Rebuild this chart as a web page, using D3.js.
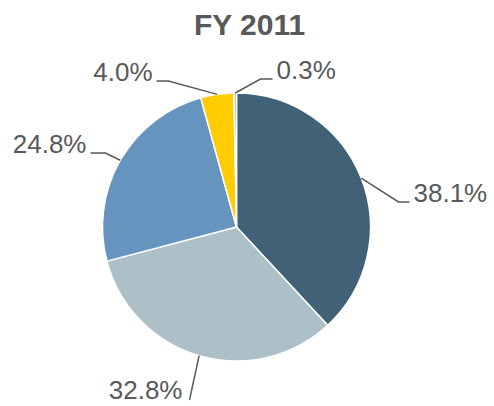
<!DOCTYPE html>
<html>
<head>
<meta charset="utf-8">
<script src="https://cdn.jsdelivr.net/npm/d3@7/dist/d3.min.js"></script>
<style>
  body { margin: 0; background: #fff; }
  text { font-family: Arial, "Liberation Sans", sans-serif; fill: #595959; }
</style>
</head>
<body>
<div id="chart"></div>
<script>
const title = "FY 2011"
const categories = ["A", "B", "C", "D", "E"]
const values = [38.1, 32.8, 24.8, 4.0, 0.3]
const labels = ["38.1%", "32.8%", "24.8%", "4.0%", "0.3%"]
const colors = ["#416177", "#adc0c7", "#6595bf", "#ffcc00", "#86bfa8"]

// label elbow points relative to pie centre, and horizontal leg length
const labelAnchors = [[162, -25], [-47, 173], [-131, -74], [-68, -146], [24, -148]]
const legs = [11, 0, 15, 12, 12]

const width = 494
const height = 406
const cx = 236.5, cy = 227, radius = 134

const svg = d3.select('#chart')
  .append("svg")
  .attr("width", width)
  .attr("height", height)

svg.append("text")
  .attr("x", 249.5)
  .attr("y", 35)
  .style("text-anchor", "middle")
  .style("font-size", "30px")
  .style("font-weight", "bold")
  .text(title)

const data = categories.map(function(c, i) { return {cat: c, value: values[i], label: labels[i]} })

const pie = d3.pie()
  .sort(null)
  .value(function(d) { return d.value })

const arc = d3.arc().innerRadius(0).outerRadius(radius)
const edgeArc = d3.arc().innerRadius(radius).outerRadius(radius)

const g = svg.append("g")
  .attr("transform", "translate(" + cx + "," + cy + ")")

const arcs = pie(data)

g.selectAll("path.slice")
  .data(arcs)
  .enter()
  .append("path")
  .attr("class", "slice")
  .attr("d", arc)
  .attr("fill", function(d, i) { return colors[i] })
  .attr("stroke", "#fff")
  .attr("stroke-width", 1.5)

g.selectAll("polyline")
  .data(arcs)
  .enter()
  .append("polyline")
  .attr("fill", "none")
  .attr("stroke", "#595959")
  .attr("stroke-width", 1.5)
  .attr("points", function(d, i) {
    const p0 = edgeArc.centroid(d)
    const p1 = labelAnchors[i]
    const dir = p1[0] > 0 ? 1 : -1
    const p2 = [p1[0] + dir * legs[i], p1[1]]
    return [p0, p1, p2].map(function(p) { return p.join(",") }).join(" ")
  })

g.selectAll("text.lbl")
  .data(arcs)
  .enter()
  .append("text")
  .attr("class", "lbl")
  .attr("x", function(d, i) {
    const p1 = labelAnchors[i]
    const dir = p1[0] > 0 ? 1 : -1
    const gap = legs[i] > 0 ? 4 : 7
    return p1[0] + dir * (legs[i] + gap)
  })
  .attr("y", function(d, i) { return labelAnchors[i][1] - (legs[i] > 0 ? 0 : 1) })
  .style("text-anchor", function(d, i) { return labelAnchors[i][0] > 0 ? "start" : "end" })
  .style("font-size", "26px")
  .text(function(d) { return d.data.label })
</script>
</body>
</html>
